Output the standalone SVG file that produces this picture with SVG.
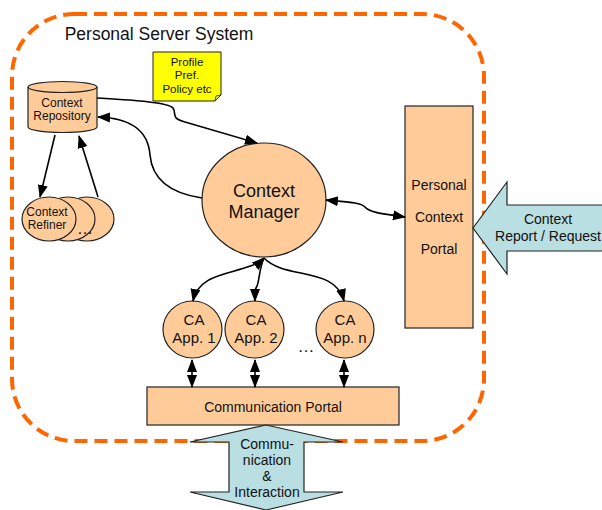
<svg xmlns="http://www.w3.org/2000/svg" width="602" height="510" viewBox="0 0 602 510">
<defs>
<marker id="ah" markerUnits="userSpaceOnUse" markerWidth="14" markerHeight="12" refX="12" refY="5" orient="auto-start-reverse" viewBox="0 0 14 10">
<path d="M0,0 L13,5 L0,10 Z" fill="#000"/>
</marker>
<style>
text{font-family:"Liberation Sans",Arial,sans-serif;fill:#111;text-anchor:middle}
.node{fill:#FFCC99;stroke:#222;stroke-width:1.2}
.blue{fill:#B9DFE2;stroke:#222;stroke-width:1.2}
.conn{fill:none;stroke:#000;stroke-width:1.6}
</style>
</defs>
<rect x="12" y="14" width="472" height="427" rx="62" ry="62" fill="none" stroke="#FF6600" stroke-width="4" stroke-dasharray="13 7"/>
<text x="159" y="40" style="font-size:17.5px">Personal Server System</text>

<g id="note">
<path d="M153,52 H221 V95 L215,101 H153 Z" fill="#FFFF00" stroke="#222" stroke-width="1"/>
<path d="M215,101 L216,96 L221,95" fill="none" stroke="#222" stroke-width="0.8"/>
<text x="187" y="66" style="font-size:11.5px">Profile</text>
<text x="187" y="79" style="font-size:11.5px">Pref.</text>
<text x="187" y="93" style="font-size:11.5px">Policy etc</text>
</g>

<g id="repository">
<path class="node" d="M28,87 A34.5,5.5 0 0 1 97,87 L97,127 A34.5,5.5 0 0 1 28,127 Z"/>
<path d="M28,87 A34.5,5.5 0 0 0 97,87" fill="none" stroke="#222" stroke-width="1.2"/>
<text x="62" y="107" style="font-size:12px">Context</text>
<text x="62" y="120" style="font-size:12px">Repository</text>
</g>

<g id="refiner">
<ellipse class="node" cx="87" cy="219" rx="27" ry="22"/>
<ellipse class="node" cx="68" cy="219" rx="27" ry="22"/>
<ellipse class="node" cx="49" cy="219" rx="27" ry="22"/>
<text x="47" y="216" style="font-size:12px">Context</text>
<text x="47" y="229" style="font-size:12px">Refiner</text>
<text x="85" y="234" style="font-size:16px">…</text>
</g>

<g id="manager">
<ellipse class="node" cx="264" cy="200" rx="62" ry="57"/>
<text x="264" y="197" style="font-size:18px">Context</text>
<text x="264" y="218" style="font-size:18px">Manager</text>
</g>

<g id="pcp">
<rect class="node" x="405" y="106" width="68" height="222"/>
<text x="439" y="190" style="font-size:14px">Personal</text>
<text x="439" y="222" style="font-size:14px">Context</text>
<text x="439" y="254" style="font-size:14px">Portal</text>
</g>

<g id="report">
<path class="blue" d="M473,228 L507,182 L507,205 L603,205 L603,251 L507,251 L507,274 Z"/>
<text x="548" y="224" style="font-size:14px">Context</text>
<text x="548" y="241" style="font-size:14px">Report / Request</text>
</g>

<g id="app1">
<ellipse class="node" cx="192.5" cy="329.5" rx="29.5" ry="28.5"/>
<text x="194" y="325" style="font-size:15px">CA</text>
<text x="194" y="343" style="font-size:15px">App. 1</text>
</g>
<g id="app2">
<ellipse class="node" cx="254.5" cy="329.5" rx="29.5" ry="28.5"/>
<text x="256" y="325" style="font-size:15px">CA</text>
<text x="256" y="343" style="font-size:15px">App. 2</text>
</g>
<g id="appn">
<ellipse class="node" cx="345" cy="329.5" rx="29" ry="28.5"/>
<text x="345" y="325" style="font-size:15px">CA</text>
<text x="345" y="343" style="font-size:15px">App. n</text>
</g>
<text x="306" y="352" style="font-size:17px">…</text>

<g id="commportal">
<rect class="node" x="147" y="387" width="252" height="38"/>
<text x="273" y="412" style="font-size:14px">Communication Portal</text>
</g>

<g id="interaction">
<path class="blue" d="M266,425 L343,442 L304,442 L304,492 L343,492 L266,510 L190,492 L229,492 L229,442 L190,442 Z"/>
<text x="267" y="449" style="font-size:14px">Commu-</text>
<text x="267" y="465" style="font-size:14px">nication</text>
<text x="267" y="481" style="font-size:14px">&amp;</text>
<text x="267" y="497" style="font-size:14px">Interaction</text>
</g>

<g id="connectors">
<path class="conn" marker-end="url(#ah)" d="M97,98 C130,100 168,102 173,108 C177,114 170,118 185,122 L257,143"/>
<path class="conn" marker-end="url(#ah)" d="M202,198 C168,193 152,178 150,155 C148,128 128,118 98,117"/>
<path class="conn" marker-end="url(#ah)" d="M55,135 L40,197"/>
<path class="conn" marker-end="url(#ah)" d="M98,197 L79,136"/>
<path class="conn" marker-start="url(#ah)" marker-end="url(#ah)" d="M326,200 C345,202 360,202 365,207 C370,213 385,214 405,217"/>
<path class="conn" marker-start="url(#ah)" marker-end="url(#ah)" d="M264,258 C245,276 200,268 193,301"/>
<path class="conn" marker-end="url(#ah)" d="M264,258 C258,272 260,282 256,288 C253,293 255,296 255,301"/>
<path class="conn" marker-end="url(#ah)" d="M264,258 C285,280 335,266 344,301"/>
<path class="conn" marker-start="url(#ah)" marker-end="url(#ah)" d="M192,360 L192,387"/>
<path class="conn" marker-start="url(#ah)" marker-end="url(#ah)" d="M255,360 L255,387"/>
<path class="conn" marker-start="url(#ah)" marker-end="url(#ah)" d="M344,360 L344,387"/>
</g>
</svg>
